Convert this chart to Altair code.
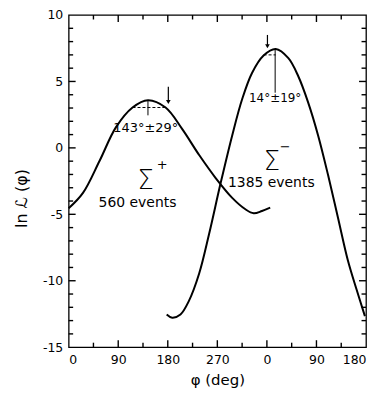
import altair as alt
import pandas as pd

# Sigma+ likelihood curve (phi in deg, ln L)
sp_phi = [0, 26, 56, 86, 116, 144, 176, 206, 237, 267, 297, 321, 336, 351, 366]
sp_val = [-4.55, -3.39, -0.99, 1.56, 3.04, 3.59, 3.04, 1.43, -0.54, -2.27, -3.76, -4.62, -4.92, -4.75, -4.5]

# Sigma- likelihood curve (phi continues past 360 -> 0..180 again)
sm_phi = [178, 188, 203, 218, 237, 255, 276, 297, 315, 333, 354, 376, 399, 417, 435, 453, 471, 489, 507, 523, 538]
sm_val = [-12.54, -12.78, -12.54, -11.55, -9.45, -6.48, -2.65, 0.94, 3.66, 5.64, 6.95, 7.44, 6.75, 5.39, 3.41,
          0.94, -2.03, -5.24, -8.46, -10.68, -12.66]

x_tick_labels = [0, 90, 180, 270, 360, 450, 540]
y_tick_labels = [-15, -10, -5, 0, 5, 10]
x_major = [90, 180, 270, 360, 450]
x_minor = [45, 135, 225, 315, 405, 495]
y_major = [-10, -5, 0, 5]
y_minor = [v for v in range(-14, 10) if v % 5 != 0]

# annotation values
half_x1 = [116, 354]
half_x2 = [176, 376]
half_y = [3.04, 7.0]
peak_x = [144, 375]
peak_top = [3.59, 7.44]
peak_bot = [2.45, 4.15]
arrow_x = [181, 361]
arrow_top = [4.6, 8.5]
arrow_bot = [3.45, 7.65]

W, H = 299, 334
XMIN, XMAX, YMIN, YMAX = 0, 540, -15, 10
DX = (XMAX - XMIN) / W   # deg per pixel
DY = (YMAX - YMIN) / H   # units per pixel

xs = alt.Scale(domain=[XMIN, XMAX], nice=False, zero=False)
ys = alt.Scale(domain=[YMIN, YMAX], nice=False, zero=False)

curves = pd.DataFrame(
    {"phi": sp_phi + sm_phi, "val": sp_val + sm_val,
     "series": ["Σ+"] * len(sp_phi) + ["Σ-"] * len(sm_phi)}
)

base_x_axis = alt.Axis(values=x_tick_labels, labelExpr="datum.value >= 360 ? datum.value - 360 : datum.value",
                       ticks=False, domain=False, grid=False, labelOverlap=False, labelFont="DejaVu Sans",
                       labelFontSize=12.5, labelColor="black", labelPadding=6, title="φ   (deg)",
                       titleFont="DejaVu Sans", titleFontSize=15, titleFontWeight="normal", titleColor="black",
                       titleY=33, titleBaseline="middle")
base_y_axis = alt.Axis(values=y_tick_labels, labelExpr="toString(datum.value)", ticks=False, domain=False,
                       grid=False, labelOverlap=False, labelFont="DejaVu Sans", labelFontSize=12.5,
                       labelColor="black", labelPadding=6, title="ln ℒ (φ)", titleFont="DejaVu Sans",
                       titleFontSize=16, titleFontWeight="normal", titleColor="black", titleX=-47, titleY=184,
                       titleBaseline="middle")

lines = alt.Chart(curves).mark_line(strokeWidth=2, interpolate="catmull-rom", color="black").encode(
    x=alt.X("phi:Q", scale=xs, axis=base_x_axis),
    y=alt.Y("val:Q", scale=ys, axis=base_y_axis),
    detail="series:N",
)

ann = pd.DataFrame({"x1": half_x1, "x2": half_x2, "hy": half_y, "px": peak_x, "pt": peak_top,
                    "pb": peak_bot, "ax": arrow_x, "at": arrow_top, "ab": arrow_bot})
annc = alt.Chart(ann)
dash = annc.mark_rule(strokeDash=[3, 2], strokeWidth=1, color="black").encode(
    x=alt.X("x1:Q", scale=xs), x2="x2:Q", y=alt.Y("hy:Q", scale=ys))
vert = annc.mark_rule(strokeWidth=1, color="black").encode(
    x=alt.X("px:Q", scale=xs), y=alt.Y("pt:Q", scale=ys), y2="pb:Q")
arr = annc.mark_rule(strokeWidth=1.2, color="black").encode(
    x=alt.X("ax:Q", scale=xs), y=alt.Y("at:Q", scale=ys), y2="ab:Q")
head = annc.mark_point(shape="triangle-down", filled=True, size=22, color="black", opacity=1).encode(
    x=alt.X("ax:Q", scale=xs), y=alt.Y("ab:Q", scale=ys))

labels = pd.DataFrame({
    "x": [140, 375, 125, 368],
    "y": [1.48, 3.73, -4.13, -2.65],
    "t": ["143°±29°", "14°±19°", "560 events", "1385 events"],
    "s": [13, 12, 14, 14],
})
txt = alt.Chart(labels).mark_text(font="DejaVu Sans", color="black", baseline="middle").encode(
    x=alt.X("x:Q", scale=xs), y=alt.Y("y:Q", scale=ys), text="t:N",
    size=alt.Size("s:Q", scale=None, legend=None))

sig = pd.DataFrame({"x": [140, 369], "y": [-2.52, -1.04], "t": ["Σ", "Σ"]})
sigt = alt.Chart(sig).mark_text(font="DejaVu Sans", fontSize=26, fontWeight=300, color="black",
                                baseline="middle").encode(
    x=alt.X("x:Q", scale=xs), y=alt.Y("y:Q", scale=ys), text="t:N")
sup = pd.DataFrame({"x": [170, 393], "y": [-1.29, 0.07], "t": ["+", "−"]})
supt = alt.Chart(sup).mark_text(font="DejaVu Sans", fontSize=13, color="black", baseline="middle").encode(
    x=alt.X("x:Q", scale=xs), y=alt.Y("y:Q", scale=ys), text="t:N")


def xticks(vals, ln):
    n = len(vals)
    df = pd.DataFrame({"v": vals, "b0": [YMIN] * n, "b1": [YMIN + ln * DY] * n,
                       "t0": [YMAX] * n, "t1": [YMAX - ln * DY] * n})
    c = alt.Chart(df)
    return [
        c.mark_rule(strokeWidth=1.4, color="black").encode(
            x=alt.X("v:Q", scale=xs), y=alt.Y("b0:Q", scale=ys), y2="b1:Q"),
        c.mark_rule(strokeWidth=1.4, color="black").encode(
            x=alt.X("v:Q", scale=xs), y=alt.Y("t0:Q", scale=ys), y2="t1:Q"),
    ]


def yticks(vals, ln):
    n = len(vals)
    df = pd.DataFrame({"w": vals, "l0": [XMIN] * n, "l1": [XMIN + ln * DX] * n,
                       "r0": [XMAX] * n, "r1": [XMAX - ln * DX] * n})
    c = alt.Chart(df)
    return [
        c.mark_rule(strokeWidth=1.4, color="black").encode(
            y=alt.Y("w:Q", scale=ys), x=alt.X("l0:Q", scale=xs), x2="l1:Q"),
        c.mark_rule(strokeWidth=1.4, color="black").encode(
            y=alt.Y("w:Q", scale=ys), x=alt.X("r0:Q", scale=xs), x2="r1:Q"),
    ]


tick_layers = xticks(x_major, 7) + xticks(x_minor, 4.5) + yticks(y_major, 7) + yticks(y_minor, 4.5)

chart = alt.layer(lines, dash, vert, arr, head, txt, sigt, supt, *tick_layers).properties(
    width=W, height=H,
    autosize=alt.AutoSizeParams(type="none"),
    padding={"left": 61, "top": 6, "right": 2, "bottom": 42},
    background="white",
).configure_view(stroke="black", strokeWidth=1.3)

chart.save("out.html", embed_options={"renderer": "svg", "actions": False})
